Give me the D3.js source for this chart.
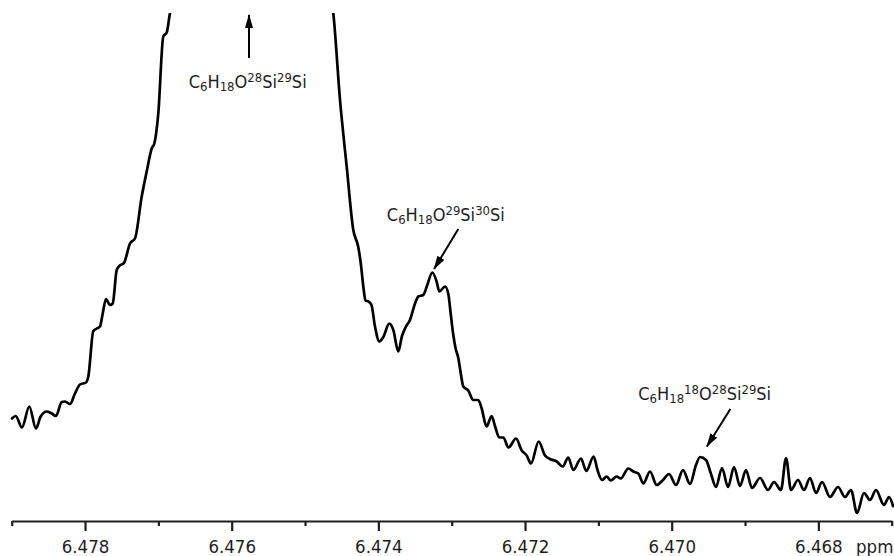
<!DOCTYPE html>
<html>
<head>
<meta charset="utf-8">
<script src="https://cdn.jsdelivr.net/npm/d3@7"></script>
<style>
  html, body { margin: 0; padding: 0; background: #fff; }
  svg { display: block; }
  text { font-family: "DejaVu Sans Condensed", "DejaVu Sans", sans-serif; font-stretch: condensed; fill: #1e1e1e; }
</style>
</head>
<body>
<script>
// Chemical shift (ppm) of each spectrum point
const shiftPpm = [
  6.478996, 6.478945, 6.478860, 6.478760, 6.478669, 6.478605, 6.478523, 6.478464, 6.478396, 6.478318,
  6.478273, 6.478205, 6.478137, 6.478069, 6.477987, 6.477955, 6.477887, 6.477837, 6.477796, 6.477759,
  6.477714, 6.477660, 6.477623, 6.477568, 6.477533, 6.477469, 6.477387, 6.477319, 6.477227, 6.477155,
  6.477091, 6.477055, 6.477001, 6.476933, 6.476886, 6.476841, 6.476814, 6.475764, 6.474632, 6.474615,
  6.474523, 6.474432, 6.474342, 6.474274, 6.474237, 6.474203, 6.474176, 6.474135, 6.474094, 6.474046,
  6.473987, 6.473933, 6.473851, 6.473796, 6.473728, 6.473678, 6.473623, 6.473569, 6.473500, 6.473455,
  6.473387, 6.473333, 6.473264, 6.473204, 6.473169, 6.473091, 6.473046, 6.473014, 6.472978, 6.472948,
  6.472910, 6.472873, 6.472842, 6.472774, 6.472705, 6.472637, 6.472591, 6.472525, 6.472455, 6.472410,
  6.472351, 6.472296, 6.472226, 6.472123, 6.472045, 6.471977, 6.471919, 6.471814, 6.471728, 6.471660,
  6.471568, 6.471486, 6.471410, 6.471342, 6.471237, 6.471165, 6.471064, 6.471012, 6.470950, 6.470886,
  6.470832, 6.470750, 6.470695, 6.470592, 6.470524, 6.470455, 6.470387, 6.470296, 6.470205, 6.470119,
  6.470037, 6.469941, 6.469846, 6.469750, 6.469669, 6.469614, 6.469532, 6.469464, 6.469396, 6.469314,
  6.469232, 6.469150, 6.469069, 6.468987, 6.468905, 6.468796, 6.468687, 6.468605, 6.468510, 6.468441,
  6.468373, 6.468278, 6.468196, 6.468114, 6.468032, 6.467950, 6.467841, 6.467732, 6.467637, 6.467555,
  6.467473, 6.467378, 6.467296, 6.467214, 6.467105, 6.467037, 6.466982
];

// Signal intensity (arbitrary units) at each shift
const intensity = [
  20.5, 21.0, 18.7, 22.9, 18.5, 20.9, 21.9, 21.6, 21.0, 23.8,
  23.9, 23.4, 25.5, 27.3, 27.7, 28.9, 38.0, 38.5, 38.9, 41.5,
  44.4, 43.2, 43.5, 50.2, 51.0, 51.6, 55.5, 56.5, 64.9, 70.2,
  74.5, 75.5, 81.5, 96.9, 97.7, 101.6, 103.2, 600.0, 103.6, 101.6,
  84.2, 70.9, 58.2, 54.8, 51.2, 46.6, 44.1, 43.9, 43.2, 38.9,
  35.9, 36.8, 39.5, 38.2, 33.9, 37.0, 38.9, 40.2, 43.5, 44.9,
  45.2, 47.2, 49.7, 47.8, 45.9, 46.9, 45.4, 41.5, 37.2, 34.6,
  32.6, 29.2, 26.9, 26.1, 24.2, 24.2, 22.5, 18.9, 21.0, 19.0,
  16.7, 16.7, 14.7, 16.5, 14.1, 13.1, 11.5, 15.9, 13.1, 12.4,
  11.9, 10.9, 12.7, 10.2, 12.5, 10.0, 12.9, 10.2, 8.2, 8.9,
  8.1, 8.9, 8.5, 10.5, 9.9, 9.5, 7.5, 9.9, 7.2, 8.2,
  9.4, 7.2, 10.2, 7.4, 11.2, 12.8, 12.2, 9.4, 6.8, 10.6,
  6.8, 10.8, 7.0, 10.2, 6.6, 8.6, 6.2, 7.8, 6.2, 12.6,
  6.2, 8.2, 6.2, 8.6, 5.6, 7.8, 4.8, 6.8, 4.8, 6.2,
  1.6, 5.6, 4.2, 6.2, 3.2, 4.8, 3.0
];

// Axis ticks
const majorTicks = [6.478, 6.476, 6.474, 6.472, 6.470, 6.468];
const minorTicks = [6.479, 6.477, 6.475, 6.473, 6.471, 6.469, 6.467];
const axisUnit = "ppm";

// Peak assignments: label parts [text, kind] with kind "n" normal, "sub", "sup"
const peakLabels = [
  [["C","n"],["6","sub"],["H","n"],["18","sub"],["O","n"],["28","sup"],["Si","n"],["29","sup"],["Si","n"]],
  [["C","n"],["6","sub"],["H","n"],["18","sub"],["O","n"],["29","sup"],["Si","n"],["30","sup"],["Si","n"]],
  [["C","n"],["6","sub"],["H","n"],["18","sub"],["18","sup"],["O","n"],["28","sup"],["Si","n"],["29","sup"],["Si","n"]]
];

const W = 894, H = 556;
const svg = d3.select("body").append("svg").attr("width", W).attr("height", H);

const x = d3.scaleLinear().domain([6.479, 6.467]).range([11.7, 891.7]);
const y = d3.scaleLinear().domain([0, 101.6]).range([521, 13]);

const defs = svg.append("defs");
defs.append("clipPath").attr("id", "plot-clip")
  .append("rect").attr("x", 0).attr("y", y(101.6)).attr("width", W).attr("height", y(0) - y(101.6) + 10);

// spectrum trace
const points = shiftPpm.map((p, i) => [p, intensity[i]]);
const line = d3.line().x(d => x(d[0])).y(d => y(d[1])).curve(d3.curveMonotoneX);

svg.append("path")
  .attr("clip-path", "url(#plot-clip)")
  .attr("d", line(points.slice().sort((a, b) => b[0] - a[0])))
  .attr("fill", "none").attr("stroke", "#000").attr("stroke-width", 2.7)
  .attr("stroke-linejoin", "round").attr("stroke-linecap", "round");

// x axis with major and minor ticks
const axisY = y(0);
const gAxis = svg.append("g").attr("transform", `translate(0,${axisY})`);
gAxis.call(d3.axisBottom(x).tickValues(majorTicks).tickFormat(d3.format(".3f")).tickSize(10).tickSizeOuter(0));
gAxis.select(".domain").attr("stroke", "#1e1e1e").attr("stroke-width", 2.2);
gAxis.selectAll(".tick line").attr("stroke", "#1e1e1e").attr("stroke-width", 2.2);
gAxis.selectAll(".tick text").attr("font-size", 18.5).attr("dy", "1.0em")
  .style("font-family", '"DejaVu Sans Condensed", "DejaVu Sans", sans-serif').attr("fill", "#1e1e1e");
const gMinor = svg.append("g").attr("transform", `translate(0,${axisY})`);
gMinor.call(d3.axisBottom(x).tickValues(minorTicks).tickFormat("").tickSize(5).tickSizeOuter(0));
gMinor.select(".domain").remove();
gMinor.selectAll(".tick line").attr("stroke", "#1e1e1e").attr("stroke-width", 2.2);

svg.append("text").attr("x", 856).attr("y", 553).attr("font-size", 18.5).text(axisUnit);

// Peak annotations
function drawLabel(parts, cx, baseline) {
  const t = svg.append("text").attr("x", cx).attr("y", baseline).attr("font-size", 18).attr("text-anchor", "middle");
  parts.forEach(([s, k]) => {
    const ts = t.append("tspan").text(s);
    if (k === "sub") ts.attr("font-size", 13).attr("baseline-shift", "-22%");
    else if (k === "sup") ts.attr("font-size", 13).attr("baseline-shift", "48%");
  });
}
defs.append("marker").attr("id", "arrowhead").attr("viewBox", "0 0 14 8")
  .attr("refX", 13).attr("refY", 4).attr("markerWidth", 14).attr("markerHeight", 8)
  .attr("markerUnits", "userSpaceOnUse").attr("orient", "auto")
  .append("path").attr("d", "M0,0 L14,4 L0,8 Z").attr("fill", "#000");
function drawArrow(x1, y1, x2, y2) {
  svg.append("line").attr("x1", x1).attr("y1", y1).attr("x2", x2).attr("y2", y2)
    .attr("stroke", "#000").attr("stroke-width", 2).attr("marker-end", "url(#arrowhead)");
}

// main isotopologue (off scale)
drawLabel(peakLabels[0], x(6.475782), y(86.6));
drawArrow(x(6.475764), y(92.6), x(6.475764), y(101.2));
// 29Si/30Si satellite
drawLabel(peakLabels[1], x(6.473080), y(60.0));
drawArrow(x(6.472910), y(58.4), x(6.473240), y(50.4));
// 18O satellite
drawLabel(peakLabels[2], x(6.469550), y(24.2));
drawArrow(x(6.469200), y(22.4), x(6.469520), y(14.9));
</script>
</body>
</html>
